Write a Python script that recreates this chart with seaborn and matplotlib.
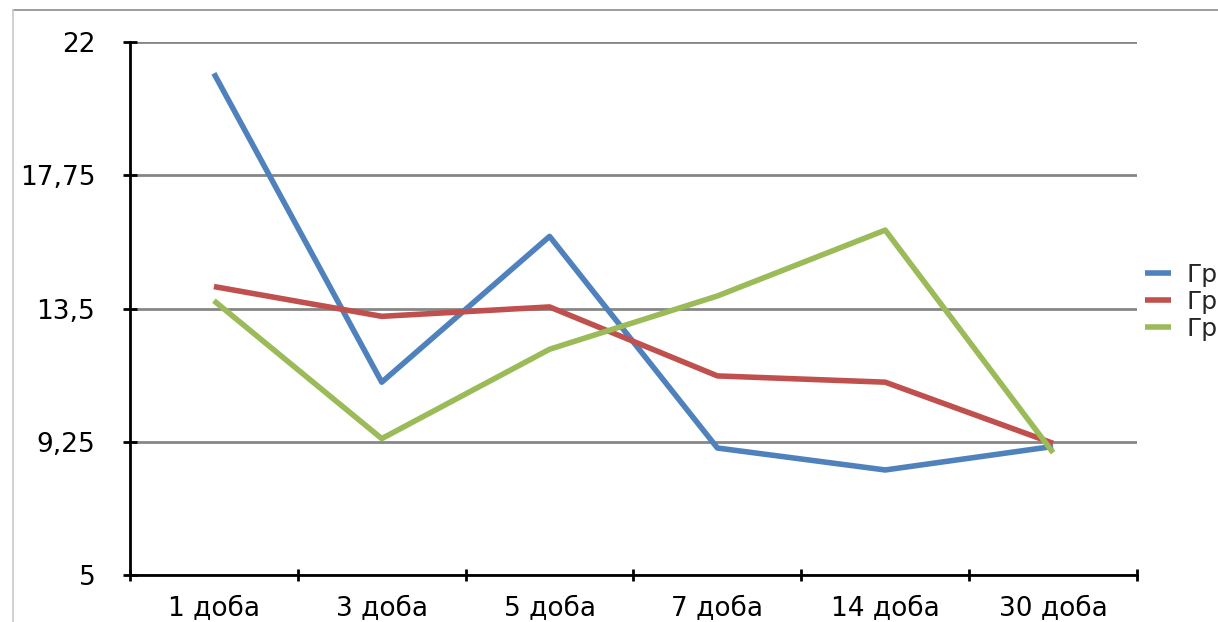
import matplotlib
matplotlib.use("Agg")
import matplotlib.pyplot as plt
from matplotlib.lines import Line2D
import seaborn as sns
import pandas as pd

# Chart data
categories = ["1 доба", "3 доба", "5 доба", "7 доба", "14 доба", "30 доба"]
group_a = [21.0, 11.15, 15.8, 9.05, 8.35, 9.1]
group_b = [14.2, 13.25, 13.55, 11.35, 11.15, 9.2]
group_c = [13.75, 9.35, 12.2, 13.9, 16.0, 8.9]
series_labels = ["Гр", "Гр", "Гр"]
y_ticks = [5, 9.25, 13.5, 17.75, 22]
y_tick_labels = ["5", "9,25", "13,5", "17,75", "22"]

colors = ["#4F81BD", "#C0504D", "#9BBB59"]

sns.set_theme(style="white")
plt.rcParams["font.family"] = ["DejaVu Sans"]

W, H = 1218, 622
fig = plt.figure(figsize=(W / 100, H / 100), dpi=100)
ax = fig.add_axes([130 / W, 1 - 575 / H, (1137 - 130) / W, (575 - 42) / H])

for vals, col, lab in zip([group_a, group_b, group_c], colors, series_labels):
    df = pd.DataFrame({"day": categories, "value": vals})
    sns.lineplot(data=df, x="day", y="value", color=col, lw=4.0, label=lab,
                 ax=ax, sort=False, solid_capstyle="butt", zorder=3)

ax.set_xlim(-0.5, len(categories) - 0.5)
ax.set_ylim(5, 22)
ax.set_xlabel("")
ax.set_ylabel("")

# Horizontal gridlines
ax.set_yticks(y_ticks)
ax.set_yticklabels(y_tick_labels)
ax.yaxis.grid(True, color="#868686", lw=2)
ax.xaxis.grid(False)
ax.set_axisbelow(True)

# Category labels centred, tick marks on category boundaries
ax.set_xticks(range(len(categories)))
ax.set_xticklabels(categories)
ax.set_xticks([i - 0.5 for i in range(len(categories) + 1)], minor=True)
ax.tick_params(axis="x", which="major", length=0, pad=15, labelsize=19, colors="black")
ax.tick_params(axis="x", which="minor", length=9, width=2, direction="inout",
               color="black", bottom=True)
ax.tick_params(axis="y", which="major", length=10, width=2, direction="inout",
               pad=20, labelsize=19, colors="black", left=True)

for side in ["top", "right"]:
    ax.spines[side].set_visible(False)
for side in ["left", "bottom"]:
    ax.spines[side].set_color("black")
    ax.spines[side].set_linewidth(2)

leg = ax.legend(loc="center left", bbox_to_anchor=(1145 / W, 1 - 302 / H),
                bbox_transform=fig.transFigure, frameon=False,
                fontsize=18, handlelength=1.05, handletextpad=0.6,
                labelspacing=0.12, borderaxespad=0, borderpad=0)
for h in leg.get_lines():
    h.set_linewidth(4.0)

# Outer chart frame (top and left edges)
fig.add_artist(Line2D([13 / W, 1.0], [1 - 10 / H, 1 - 10 / H],
                      transform=fig.transFigure, color="#8c8c8c", lw=1.2))
fig.add_artist(Line2D([13 / W, 13 / W], [0.0, 1 - 10 / H],
                      transform=fig.transFigure, color="#c8c8c8", lw=1.2))

fig.savefig("out.png", dpi=100, facecolor="white")
